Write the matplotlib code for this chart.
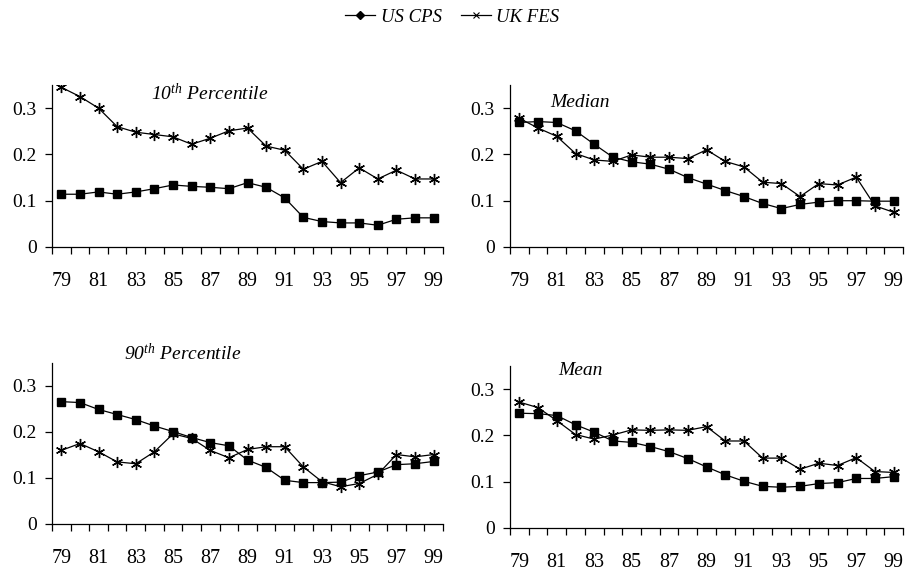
import matplotlib
matplotlib.use("Agg")
import matplotlib.pyplot as plt
from matplotlib.lines import Line2D
import numpy as np

plt.rcParams['font.family'] = ['Liberation Serif', 'DejaVu Serif']
plt.rcParams['mathtext.fontset'] = 'custom'
plt.rcParams['mathtext.rm'] = 'Liberation Serif'
plt.rcParams['mathtext.it'] = 'Liberation Serif:italic'

years = ['79', '80', '81', '82', '83', '84', '85', '86', '87', '88', '89',
         '90', '91', '92', '93', '94', '95', '96', '97', '98', '99']

p10_us = [0.114, 0.114, 0.119, 0.114, 0.119, 0.126, 0.134, 0.131, 0.129, 0.126, 0.139,
          0.129, 0.106, 0.064, 0.055, 0.052, 0.052, 0.047, 0.060, 0.063, 0.063]
p10_uk = [0.345, 0.325, 0.300, 0.260, 0.248, 0.243, 0.238, 0.222, 0.235, 0.251, 0.257,
          0.218, 0.209, 0.168, 0.185, 0.139, 0.171, 0.147, 0.166, 0.147, 0.147]

med_us = [0.269, 0.271, 0.269, 0.251, 0.222, 0.194, 0.184, 0.179, 0.168, 0.150, 0.136,
          0.122, 0.109, 0.094, 0.083, 0.092, 0.097, 0.100, 0.100, 0.099, 0.099]
med_uk = [0.278, 0.257, 0.239, 0.202, 0.188, 0.185, 0.199, 0.194, 0.194, 0.191, 0.210,
          0.185, 0.173, 0.140, 0.137, 0.109, 0.137, 0.134, 0.151, 0.089, 0.075]

p90_us = [0.266, 0.264, 0.249, 0.238, 0.227, 0.213, 0.201, 0.188, 0.177, 0.170, 0.139,
          0.123, 0.095, 0.090, 0.090, 0.091, 0.105, 0.113, 0.129, 0.131, 0.136]
p90_uk = [0.160, 0.175, 0.157, 0.135, 0.131, 0.157, 0.196, 0.186, 0.160, 0.144, 0.162,
          0.168, 0.168, 0.124, 0.092, 0.081, 0.088, 0.108, 0.151, 0.146, 0.151]

mean_us = [0.248, 0.247, 0.243, 0.223, 0.207, 0.188, 0.185, 0.176, 0.165, 0.150, 0.132,
           0.115, 0.101, 0.090, 0.088, 0.090, 0.096, 0.098, 0.107, 0.107, 0.111]
mean_uk = [0.272, 0.260, 0.232, 0.202, 0.192, 0.201, 0.212, 0.211, 0.212, 0.211, 0.219,
           0.188, 0.188, 0.151, 0.151, 0.127, 0.140, 0.135, 0.152, 0.122, 0.120]

titles = [r'10$^{th}$ Percentile', 'Median', r'90$^{th}$ Percentile', 'Mean']
yticks = [0, 0.1, 0.2, 0.3]
ytick_labels = ['0', '0.1', '0.2', '0.3']

W, H = 905, 575
fig = plt.figure(figsize=(W / 100, H / 100), dpi=100)

# (left, right, bottom, top) in pixels
boxes = [(52, 443, 247, 85), (510, 903, 247, 85), (52, 443, 524, 363), (510, 903, 528, 366)]
title_pos = [(0.404, 0.95), (0.178, 0.895), (0.335, 1.06), (0.178, 0.975)]
data = [(p10_us, p10_uk), (med_us, med_uk), (p90_us, p90_uk), (mean_us, mean_uk)]

star = (6, 2, 0)

for (l, r, b, t), (us, uk), title, tp in zip(boxes, data, titles, title_pos):
    ax = fig.add_axes([l / W, 1 - b / H, (r - l) / W, (b - t) / H])
    x = np.arange(len(years))
    ax.plot(x, uk, color='black', lw=0.9, marker=star, markersize=8, markeredgewidth=1.0)
    ax.plot(x, us, color='black', lw=0.9, marker='s', markersize=6)
    ax.set_xlim(-0.5, len(years) - 0.5)
    ax.set_ylim(0, 0.35)
    for s in ['top', 'right']:
        ax.spines[s].set_visible(False)
    ax.spines['left'].set_linewidth(0.9)
    ax.spines['bottom'].set_linewidth(0.9)
    ax.set_xticks(np.arange(-0.5, len(years)), labels=[''] * (len(years) + 1))
    ax.set_xticks(x[::2], labels=years[::2], minor=True)
    ax.tick_params(axis='x', which='major', direction='out', length=5, width=0.9)
    ax.tick_params(axis='x', which='minor', length=0, pad=18, labelsize=14.5)
    ax.set_yticks(yticks, labels=ytick_labels)
    ax.tick_params(axis='y', direction='out', length=5, width=0.9, pad=6, labelsize=14)
    ax.text(tp[0], tp[1], title, transform=ax.transAxes, ha='center', va='center',
            fontsize=14, style='italic')

handles = [Line2D([], [], color='black', lw=0.9, marker='D', markersize=4),
           Line2D([], [], color='black', lw=0.9, marker='x', markersize=4, markeredgewidth=0.8)]
fig.legend(handles, ['US CPS', 'UK FES'], loc='center', bbox_to_anchor=(0.5, 1 - 17 / H),
           ncol=2, frameon=False, prop={'style': 'italic', 'size': 13.5},
           handlelength=1.6, handletextpad=0.3, columnspacing=1.0)

fig.savefig('out.png', dpi=100)
